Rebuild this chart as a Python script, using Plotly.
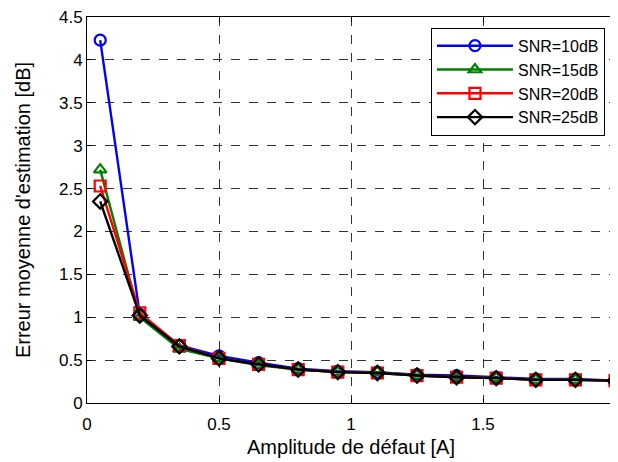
import plotly.graph_objects as go

amplitude = [0.05, 0.2, 0.35, 0.5, 0.65, 0.8, 0.95, 1.1, 1.25, 1.4, 1.55, 1.7, 1.85, 2.0]
snr10 = [4.23, 1.03, 0.67, 0.55, 0.47, 0.40, 0.37, 0.36, 0.33, 0.32, 0.30, 0.28, 0.28, 0.26]
snr15 = [2.72, 1.00, 0.63, 0.52, 0.44, 0.39, 0.36, 0.36, 0.32, 0.30, 0.29, 0.27, 0.27, 0.26]
snr20 = [2.53, 1.05, 0.67, 0.52, 0.45, 0.39, 0.36, 0.35, 0.32, 0.30, 0.29, 0.27, 0.27, 0.26]
snr25 = [2.35, 1.02, 0.66, 0.52, 0.45, 0.39, 0.36, 0.35, 0.32, 0.30, 0.29, 0.27, 0.27, 0.26]
names = ["SNR=10dB", "SNR=15dB", "SNR=20dB", "SNR=25dB"]
colors = ["#0000ff", "#008000", "#ff0000", "#000000"]
symbols = ["circle-open", "triangle-up-open", "square-open", "diamond-open"]

fig = go.Figure()
for ys, n, c, s in zip([snr10, snr15, snr20, snr25], names, colors, symbols):
    fig.add_trace(go.Scatter(
        x=amplitude, y=ys, name=n, mode="lines+markers",
        line=dict(color=c, width=2.4),
        marker=dict(symbol=s, size=11, color=c, line=dict(color=c, width=2.2)),
    ))

font = "Liberation Sans, Arial, sans-serif"
axcommon = dict(
    showline=True, linecolor="black", linewidth=1, mirror="ticks",
    ticks="inside", ticklen=5, tickcolor="black",
    showgrid=True, gridcolor="#333333", griddash="dash", gridwidth=1,
    zeroline=False, automargin=False, ticklabeloverflow="allow",
    tickfont=dict(size=17, color="black", family=font),
)
fig.update_xaxes(range=[0, 2], tickvals=[0, 0.5, 1, 1.5, 2], ticktext=["0", "0.5", "1", "1.5", "2"],
                 ticklabelstandoff=6,
                 title=dict(text="Amplitude de défaut [A]", font=dict(size=20, color="black", family=font),
                            standoff=6),
                 **axcommon)
fig.update_yaxes(range=[0, 4.5], tickvals=[0, 0.5, 1, 1.5, 2, 2.5, 3, 3.5, 4, 4.5],
                 ticktext=["0", "0.5", "1", "1.5", "2", "2.5", "3", "3.5", "4", "4.5"],
                 title=dict(text="Erreur moyenne d'estimation [dB]", font=dict(size=20, color="black", family=font),
                            standoff=22),
                 **axcommon)
fig.update_layout(
    width=610, height=454,
    margin=dict(l=79, r=3, t=9, b=59),
    paper_bgcolor="white", plot_bgcolor="white",
    font=dict(family=font, color="black"),
    showlegend=True,
    legend=dict(x=0.981, y=0.972, xanchor="right", yanchor="top",
                bgcolor="white", bordercolor="black", borderwidth=1,
                font=dict(size=16, color="black", family=font),
                tracegroupgap=0, itemwidth=76),
)
fig.write_html("out.html")
